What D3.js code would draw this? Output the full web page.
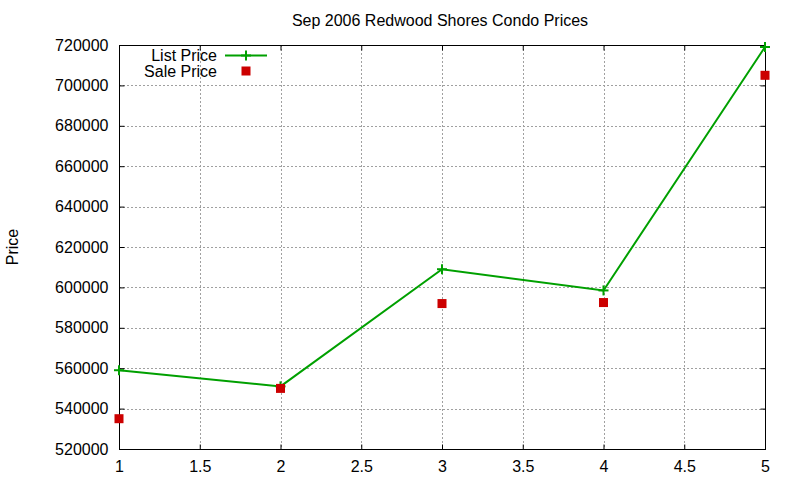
<!DOCTYPE html>
<html><head><meta charset="utf-8">
<script src="https://cdn.jsdelivr.net/npm/d3@7"></script>
<style>body{margin:0;background:#fff}svg{display:block;font-family:"Liberation Sans",Arial,sans-serif}</style>
</head><body><svg id="c" width="800" height="480"></svg>
<script>
const xValues = [1, 2, 3, 4, 5];
const listPrice = [559000, 551000, 609000, 598500, 719000];
const salePrice = [535000, 550000, 592000, 592500, 705000];
const xTicks = [1, 1.5, 2, 2.5, 3, 3.5, 4, 4.5, 5];
const yTicks = [520000, 540000, 560000, 580000, 600000, 620000, 640000, 660000, 680000, 700000, 720000];
const title = "Sep 2006 Redwood Shores Condo Prices";
const yLabel = "Price";
const seriesNames = ["List Price", "Sale Price"];

const svg = d3.select("#c");
const L = 119, R = 765, T = 45, B = 449;
const x = d3.scaleLinear().domain([1, 5]).range([L, R]);
const y = d3.scaleLinear().domain([520000, 720000]).range([B, T]);
const green = "#00a000", red = "#cc0000";
const fs = 16;

// grid
const grid = svg.append("g").attr("stroke", "#a0a0a0").attr("stroke-width", 1).attr("stroke-dasharray", "2,2");
xTicks.slice(1, -1).forEach(t => grid.append("line").attr("x1", Math.round(x(t)) + .5).attr("x2", Math.round(x(t)) + .5).attr("y1", T).attr("y2", B));
yTicks.slice(1, -1).forEach(t => grid.append("line").attr("y1", Math.round(y(t)) + .5).attr("y2", Math.round(y(t)) + .5).attr("x1", L).attr("x2", R));

// axes (gnuplot-like, inward ticks, mirrored)
const tk = 5;
const gL = svg.append("g").attr("transform", `translate(${L + .5},0)`).call(d3.axisLeft(y).tickValues(yTicks).tickFormat(d3.format("d")).tickSizeInner(-tk).tickSizeOuter(0).tickPadding(11));
const gR = svg.append("g").attr("transform", `translate(${R + .5},0)`).call(d3.axisRight(y).tickValues(yTicks).tickFormat("").tickSizeInner(-tk).tickSizeOuter(0));
const gB = svg.append("g").attr("transform", `translate(0,${B + .5})`).call(d3.axisBottom(x).tickValues(xTicks).tickFormat(d3.format("")).tickSizeInner(-tk).tickSizeOuter(0).tickPadding(11));
const gT = svg.append("g").attr("transform", `translate(0,${T + .5})`).call(d3.axisTop(x).tickValues(xTicks).tickFormat("").tickSizeInner(-tk).tickSizeOuter(0));
[gL, gR, gB, gT].forEach(g => {
  g.select(".domain").remove();
  g.selectAll("line").attr("stroke", "#000");
  g.selectAll("text").attr("font-size", fs).attr("fill", "#000").attr("font-family", '"Liberation Sans",Arial,sans-serif');
});
svg.append("rect").attr("x", L + .5).attr("y", T + .5).attr("width", R - L).attr("height", B - T).attr("fill", "none").attr("stroke", "#000").attr("stroke-width", 1);

// list price line
svg.append("path").datum(xValues.map((d, i) => [d, listPrice[i]]))
  .attr("d", d3.line().x(d => x(d[0])).y(d => y(d[1])))
  .attr("fill", "none").attr("stroke", green).attr("stroke-width", 2);
const plus = (g, cx, cy) => {
  g.append("line").attr("x1", cx - 5).attr("x2", cx + 5).attr("y1", cy).attr("y2", cy).attr("stroke", green).attr("stroke-width", 2);
  g.append("line").attr("x1", cx).attr("x2", cx).attr("y1", cy - 5).attr("y2", cy + 5).attr("stroke", green).attr("stroke-width", 2);
};
const pg = svg.append("g");
xValues.forEach((d, i) => plus(pg, x(d), y(listPrice[i])));

// sale price squares
svg.append("g").selectAll("rect").data(xValues.map((d, i) => [d, salePrice[i]])).join("rect")
  .attr("x", d => x(d[0]) - 4.5).attr("y", d => y(d[1]) - 4.5).attr("width", 9).attr("height", 9).attr("fill", red);

// legend
svg.append("text").attr("x", 217).attr("y", 61).attr("text-anchor", "end").attr("font-size", fs).text(seriesNames[0]);
svg.append("text").attr("x", 217).attr("y", 77).attr("text-anchor", "end").attr("font-size", fs).text(seriesNames[1]);
svg.append("line").attr("x1", 225).attr("x2", 267).attr("y1", 55.5).attr("y2", 55.5).attr("stroke", green).attr("stroke-width", 2);
plus(svg, 246, 55.5);
svg.append("rect").attr("x", 241.5).attr("y", 66.5).attr("width", 9).attr("height", 9).attr("fill", red);

// title and y label
svg.append("text").attr("x", 440).attr("y", 26).attr("text-anchor", "middle").attr("font-size", fs).text(title);
svg.append("text").attr("transform", "translate(18,247) rotate(-90)").attr("text-anchor", "middle").attr("font-size", fs).text(yLabel);
</script></body></html>
